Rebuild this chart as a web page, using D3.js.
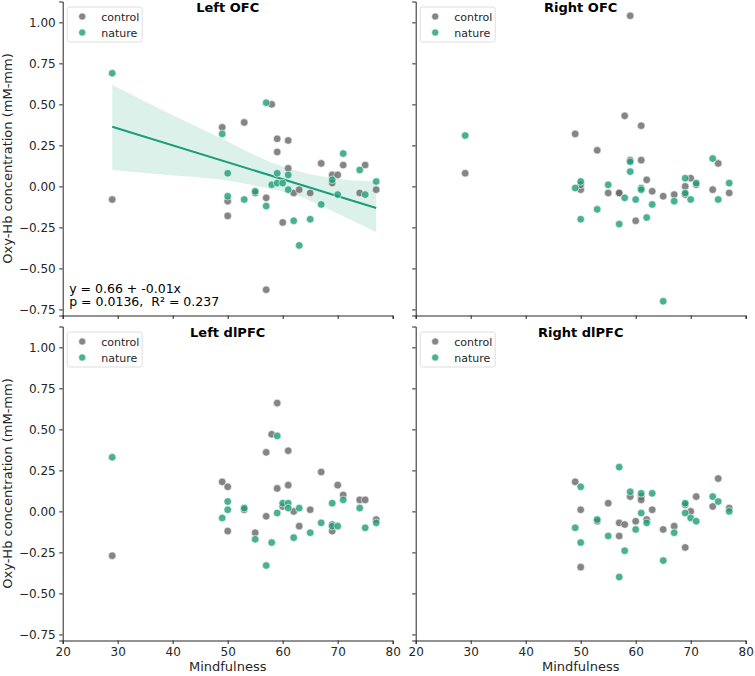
<!DOCTYPE html>
<html>
<head>
<meta charset="utf-8">
<script src="https://cdn.jsdelivr.net/npm/d3@7"></script>
<style>
  body { margin: 0; background: #fff; }
  svg { font-family: "DejaVu Sans", sans-serif; }
</style>
</head>
<body>
<svg id="chart" width="755" height="676"></svg>
<script>
const width = 755;
const height = 676;

const groups = ['control', 'nature'];
const colors = ['#666666', '#1b9e77'];
const titles = ['Left OFC', 'Right OFC', 'Left dlPFC', 'Right dlPFC'];

const xTicks = [20, 30, 40, 50, 60, 70, 80];
const yTicks = [-0.75, -0.5, -0.25, 0, 0.25, 0.5, 0.75, 1.0];
const xDomain = [20, 80];
const yDomain = [-0.787, 1.127];

// Left OFC
const lOfcControlX = [29, 49, 50, 50, 53, 55, 57, 57, 58, 59, 59, 60, 61, 61, 62, 63, 65, 67, 69, 69, 70, 71, 74, 75, 77];
const lOfcControlY = [-0.08, 0.36, -0.09, -0.18, 0.39, -0.04, -0.07, -0.63, 0.50, 0.29, 0.21, -0.22, 0.28, 0.11, -0.04, -0.02, -0.04, 0.14, 0.07, 0.02, 0.07, 0.13, -0.04, 0.13, -0.02];
const lOfcNatureX = [29, 49, 50, 50, 53, 55, 57, 57, 58, 59, 59, 60, 61, 61, 62, 63, 65, 67, 69, 70, 71, 74, 75, 77];
const lOfcNatureY = [0.69, 0.32, 0.08, -0.06, -0.08, -0.03, 0.51, -0.12, 0.01, 0.08, 0.02, 0.02, 0.07, -0.02, -0.21, -0.36, -0.20, -0.11, 0.04, -0.05, 0.20, 0.10, -0.05, 0.03];

// Right OFC
const rOfcControlX = [29, 49, 50, 50, 53, 55, 57, 57, 58, 59, 59, 60, 61, 61, 62, 63, 65, 67, 69, 69, 70, 71, 74, 75, 77];
const rOfcControlY = [0.08, 0.32, -0.02, 0.01, 0.22, -0.04, -0.04, -0.04, 0.43, 1.04, 0.16, -0.21, 0.37, 0.16, 0.04, -0.03, -0.06, -0.05, 0.00, -0.05, 0.05, 0.01, -0.02, 0.14, -0.04];
const rOfcNatureX = [29, 49, 50, 50, 53, 55, 57, 58, 59, 59, 60, 61, 61, 62, 63, 65, 67, 69, 69, 70, 71, 74, 75, 77];
const rOfcNatureY = [0.31, -0.01, 0.03, -0.20, -0.14, 0.01, -0.23, -0.07, 0.15, 0.09, -0.08, -0.01, -0.02, -0.19, -0.11, -0.70, -0.09, 0.05, -0.04, -0.08, 0.02, 0.17, -0.08, 0.02];

// Left dlPFC
const lDlControlX = [29, 49, 50, 50, 53, 55, 57, 57, 58, 59, 59, 60, 61, 61, 62, 63, 65, 67, 69, 69, 70, 71, 74, 75, 77];
const lDlControlY = [-0.27, 0.18, 0.15, -0.12, 0.01, -0.13, 0.36, -0.03, 0.47, 0.66, 0.14, 0.03, 0.37, 0.16, 0.00, -0.09, 0.01, 0.24, -0.08, -0.12, 0.16, 0.10, 0.07, 0.07, -0.05];
const lDlNatureX = [29, 49, 50, 50, 53, 55, 57, 58, 59, 59, 60, 61, 61, 62, 63, 65, 67, 69, 69, 70, 71, 74, 75, 77];
const lDlNatureY = [0.33, -0.04, 0.06, 0.01, 0.02, -0.17, -0.33, -0.19, 0.46, -0.01, 0.05, 0.05, 0.02, -0.16, 0.02, -0.13, -0.07, 0.05, -0.09, -0.09, 0.07, 0.02, -0.10, -0.07];

// Right dlPFC
const rDlControlX = [49, 50, 50, 53, 55, 57, 57, 58, 59, 60, 61, 61, 62, 63, 65, 67, 69, 69, 70, 71, 74, 75, 77];
const rDlControlY = [0.18, 0.01, -0.34, -0.06, 0.05, -0.07, -0.15, -0.08, 0.09, -0.06, 0.09, 0.07, -0.05, 0.01, -0.11, -0.09, 0.04, -0.22, 0.00, 0.09, 0.03, 0.20, 0.02];
const rDlNatureX = [49, 50, 50, 53, 55, 57, 57, 58, 59, 60, 61, 61, 62, 63, 65, 67, 69, 69, 70, 71, 74, 75, 77];
const rDlNatureY = [-0.10, 0.15, -0.19, -0.05, -0.15, 0.27, -0.40, -0.24, 0.12, -0.11, 0.11, -0.01, -0.07, 0.11, -0.30, -0.13, 0.05, -0.01, -0.04, -0.06, 0.09, 0.06, 0.00];

// regression fit for Left OFC (nature)
const fitX = [29, 77];
const fitY = [0.364, -0.132];
const bandX = [29, 39, 49, 57, 63, 69, 77];
const bandLo = [0.10, 0.07, 0.04, -0.01, -0.06, -0.15, -0.28];
const bandHi = [0.62, 0.45, 0.29, 0.16, 0.09, 0.05, 0.03];
const fitText = ['y = 0.66 + -0.01x', 'p = 0.0136,  R\u00b2 = 0.237'];

const panels = [
  {title: titles[0], control: [lOfcControlX, lOfcControlY], nature: [lOfcNatureX, lOfcNatureY], left: 62.7, top: 1.5, col: 0, row: 0, fit: true},
  {title: titles[1], control: [rOfcControlX, rOfcControlY], nature: [rOfcNatureX, rOfcNatureY], left: 415.7, top: 1.5, col: 1, row: 0},
  {title: titles[2], control: [lDlControlX, lDlControlY], nature: [lDlNatureX, lDlNatureY], left: 62.7, top: 326.5, col: 0, row: 1},
  {title: titles[3], control: [rDlControlX, rDlControlY], nature: [rDlNatureX, rDlNatureY], left: 415.7, top: 326.5, col: 1, row: 1}
];

const pw = 330;
const ph = 314;

const svg = d3.select('#chart');

panels.forEach(p => {
  const g = svg.append('g').attr('transform', `translate(${p.left}, ${p.top})`);

  const x = d3.scaleLinear().domain(xDomain).range([0, pw]);
  const y = d3.scaleLinear().domain(yDomain).range([ph, 0]);

  const xAxis = g.append('g')
    .attr('transform', `translate(0, ${ph})`)
    .call(d3.axisBottom(x).tickValues(xTicks).tickSize(3.5).tickPadding(3.5)
      .tickFormat(p.row == 1 ? d3.format('d') : ''));
  const yAxis = g.append('g')
    .call(d3.axisLeft(y).tickValues(yTicks).tickSize(3.5).tickPadding(3.5)
      .tickFormat(p.col == 0 ? (d => d3.format('.2f')(d).replace('-', '\u2212')) : ''));

  [xAxis, yAxis].forEach(a => {
    a.select('.domain').attr('stroke', '#262626').attr('stroke-width', 1);
    a.selectAll('.tick line').attr('stroke', '#262626').attr('stroke-width', 1);
    a.selectAll('.tick text').attr('fill', '#262626').style('font-size', '12px').style('font-family', 'DejaVu Sans');
  });

  if (p.fit) {
    const band = bandX.map((v, i) => ({x: v, lo: bandLo[i], hi: bandHi[i]}));
    g.append('path')
      .datum(band)
      .attr('fill', colors[1])
      .attr('fill-opacity', 0.15)
      .attr('d', d3.area().curve(d3.curveMonotoneX)
        .x(d => x(d.x)).y0(d => y(d.lo)).y1(d => y(d.hi)));

    g.append('path')
      .datum(fitX.map((v, i) => ({x: v, y: fitY[i]})))
      .attr('fill', 'none')
      .attr('stroke', colors[1])
      .attr('stroke-width', 2)
      .attr('d', d3.line().x(d => x(d.x)).y(d => y(d.y)));
  }

  groups.forEach((grp, gi) => {
    const [xs, ys] = p[grp];
    g.append('g').selectAll('circle')
      .data(xs.map((v, i) => ({x: v, y: ys[i]})))
      .enter()
      .append('circle')
      .attr('cx', d => x(d.x))
      .attr('cy', d => y(d.y))
      .attr('r', 3.8)
      .attr('fill', colors[gi])
      .attr('fill-opacity', 0.8)
      .attr('stroke', '#fff')
      .attr('stroke-width', 0.6);
  });

  g.append('text')
    .attr('x', pw / 2)
    .attr('y', 10.5)
    .attr('text-anchor', 'middle')
    .style('font-size', '13px')
    .style('font-weight', 'bold')
    .attr('fill', '#000')
    .text(p.title);

  // legend
  const leg = g.append('g').attr('transform', 'translate(4.5, 5.5)');
  leg.append('rect')
    .attr('width', 75).attr('height', 35).attr('rx', 2.5)
    .attr('fill', '#fff').attr('fill-opacity', 0.8)
    .attr('stroke', '#d6d6d6').attr('stroke-width', 0.8);
  groups.forEach((grp, gi) => {
    leg.append('circle')
      .attr('cx', 15).attr('cy', 9.5 + gi * 16)
      .attr('r', 3.5)
      .attr('fill', colors[gi]).attr('fill-opacity', 0.8)
      .attr('stroke', '#fff').attr('stroke-width', 0.5);
    leg.append('text')
      .attr('x', 34).attr('y', 13.5 + gi * 16)
      .style('font-size', '11px')
      .attr('fill', '#262626')
      .text(grp);
  });

  if (p.fit) {
    fitText.forEach((t, i) => {
      g.append('text')
        .attr('x', 6.5)
        .attr('y', 291 + i * 13.5)
        .style('font-size', '12.5px')
        .style('white-space', 'pre')
        .attr('fill', '#000')
        .text(t);
    });
  }

  if (p.col == 0) {
    svg.append('text')
      .attr('transform', `translate(12, ${p.top + ph / 2}) rotate(-90)`)
      .attr('text-anchor', 'middle')
      .style('font-size', '13px')
      .attr('fill', '#262626')
      .text('Oxy-Hb concentration (mM-mm)');
  }
  if (p.row == 1) {
    svg.append('text')
      .attr('x', p.left + pw / 2)
      .attr('y', 671)
      .attr('text-anchor', 'middle')
      .style('font-size', '13px')
      .attr('fill', '#262626')
      .text('Mindfulness');
  }
});
</script>
</body>
</html>
